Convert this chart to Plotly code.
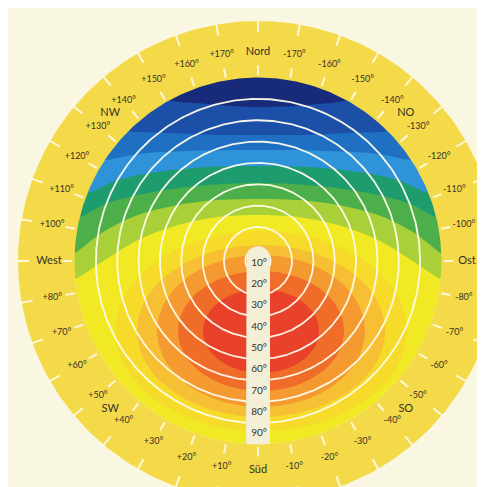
import numpy as np
import plotly.graph_objects as go

# ---------------- data ----------------
# Azimuth scale around the dial: 0 = Süd, positive = towards West
AZIMUTHS = list(range(-170, 181, 10))
CARDINAL_NAMES = {0: "Süd", 90: "West", -90: "Ost", 180: "Nord"}
INTERCARDINAL_AZ = [45, -45, 135, -135]
INTERCARDINAL_NAMES = ["SW", "SO", "NW", "NO"]

# Tilt angles written along the south radius, and ring boundaries between them
TILTS = [10, 20, 30, 40, 50, 60, 70, 80, 90]
TILT_LABELS = ["10°", "20°", "30°", "40°", "50°", "60°", "70°", "80°", "90°"]
RING_TILTS = [15, 25, 35, 45, 55, 65, 75, 85]
EDGE_TILT = 95

# Irradiation bands on the north side: boundary height at the rim and
# boundary points inside the disc (chart units, centre = 0,0)
UPPER_BANDS = ["gelbgrün", "grün", "blaugrün", "hellblau", "mittelblau", "blau", "dunkelblau"]
UPPER_EDGE_Y = [-18, 8, 44, 68, 101, 130, 161]
UPPER_X = [
    [-150, -120, -80, -40, 0, 40, 80, 120, 150],
    [-155, -120, -80, -40, 0, 40, 80, 120, 155],
    [-150, -110, -60, 0, 60, 110, 150],
    [-140, -100, -50, 0, 50, 100, 140],
    [-120, -70, 0, 70, 120],
    [-90, -40, 0, 40, 90],
    [-50, 0, 50],
]
UPPER_Y = [
    [3, 21, 36, 44, 46, 44, 36, 21, 3],
    [29, 46, 56, 61, 62, 61, 56, 46, 29],
    [58, 68, 75, 78, 75, 68, 58],
    [81, 89, 94, 95, 94, 89, 81],
    [107, 110, 111, 110, 107],
    [128, 126, 126, 126, 128],
    [157, 154, 156],
]

# Irradiation bands on the south side (closed ovals around the maximum)
LOWER_BANDS = ["goldgelb", "hellorange", "orange", "dunkelorange", "rot"]
LOWER_CX = [3, 3, 3, 3, 3]
LOWER_CY = [-70, -70, -70, -70, -70]
LOWER_RX = [146, 124, 104, 83, 58]
LOWER_RY = [100, 86, 76, 60, 42]

# ---------------- styles ----------------
UPPER_COLORS = ["#a9d038", "#4caf4a", "#1e9c6d", "#2e93d8", "#1f70c3", "#1b4fa8", "#172b7a"]
LOWER_COLORS = ["#f6db2b", "#f7bf33", "#f49a31", "#ef6c29", "#e8422a"]
BASE_YELLOW = "#f1e924"
RING_YELLOW = "#f4da48"
BG = "#f9f7e2"
TEXT = "#37312a"
WHITE = "rgba(255,252,236,0.95)"
FONT = "Lato"

RING_STEP = 21.35
R0 = 2.0


def tilt_r(t):
    return RING_STEP * (t - 10) / 10 + R0


R_DISK = tilt_r(EDGE_TILT)
R_OUT = 240
R_LABEL = 209

fig = go.Figure()


def add_poly(xs, ys, color, shape="linear"):
    fig.add_trace(go.Scatter(x=xs, y=ys, mode="lines", fill="toself",
                             fillcolor=color, line=dict(width=0, shape=shape),
                             hoverinfo="skip", showlegend=False))


# base disc
th = np.linspace(0, 2 * np.pi, 361)
add_poly(R_DISK * np.cos(th), R_DISK * np.sin(th), BASE_YELLOW)

# south ovals
for cx, cy, rx, ry, col in zip(LOWER_CX, LOWER_CY, LOWER_RX, LOWER_RY, LOWER_COLORS):
    t = np.linspace(0, 2 * np.pi, 241)
    add_poly(cx + rx * np.cos(t), cy + ry * np.sin(t), col)

# north bands
for ye, px, py, col in zip(UPPER_EDGE_Y, UPPER_X, UPPER_Y, UPPER_COLORS):
    xe = np.sqrt(R_DISK ** 2 - ye ** 2)
    a0 = np.arctan2(ye, xe)
    arc = np.linspace(a0, np.pi - a0, 160)
    xs = [-xe] + list(px) + [xe] + list(R_DISK * 1.01 * np.cos(arc)) + [-xe]
    ys = [ye] + list(py) + [ye] + list(R_DISK * 1.01 * np.sin(arc)) + [ye]
    add_poly(xs, ys, col, shape="spline")

# tilt rings
rx_, ry_ = [], []
for t in RING_TILTS:
    r = tilt_r(t)
    rx_ += list(r * np.cos(th)) + [None]
    ry_ += list(r * np.sin(th)) + [None]
fig.add_trace(go.Scatter(x=rx_, y=ry_, mode="lines", line=dict(color=WHITE, width=1.8),
                         hoverinfo="skip", showlegend=False))

# tilt column (strip along south radius with rounded top)
half_w = 12
cap_y = tilt_r(TILTS[0]) + 1
cap = np.linspace(0, np.pi, 60)
col_x = [half_w, half_w, -half_w, -half_w] + list(half_w * np.cos(np.pi - cap))
col_y = [cap_y, -R_DISK - 3, -R_DISK - 3, cap_y] + list(cap_y + half_w * np.sin(np.pi - cap))
add_poly(col_x, col_y, "#f3eed6")

# outer ring (annulus) drawn on top of the disc edge
to = np.linspace(0, 2 * np.pi, 361)
ann_x = list(R_OUT * np.cos(to)) + list(R_DISK * np.cos(to[::-1])) + [R_OUT]
ann_y = list(R_OUT * np.sin(to)) + list(R_DISK * np.sin(to[::-1])) + [0]
add_poly(ann_x, ann_y, RING_YELLOW)

# ticks on the ring
tx, ty = [], []
for a in AZIMUTHS:
    ar = np.radians(a)
    for r0, r1 in ((229, R_OUT + 2), (R_DISK + 2.5, R_DISK + 12)):
        tx += [-r0 * np.sin(ar), -r1 * np.sin(ar), None]
        ty += [-r0 * np.cos(ar), -r1 * np.cos(ar), None]
fig.add_trace(go.Scatter(x=tx, y=ty, mode="lines", line=dict(color="#fdf7dc", width=2),
                         hoverinfo="skip", showlegend=False))

# azimuth labels
num_x, num_y, num_t = [], [], []
big_x, big_y, big_t = [], [], []
for a in AZIMUTHS:
    ar = np.radians(a)
    x, y = -R_LABEL * np.sin(ar), -R_LABEL * np.cos(ar)
    if a in CARDINAL_NAMES:
        big_x.append(x); big_y.append(y); big_t.append(CARDINAL_NAMES[a])
    else:
        num_x.append(x); num_y.append(y); num_t.append(f"{a:+d}°")
for a, name in zip(INTERCARDINAL_AZ, INTERCARDINAL_NAMES):
    ar = np.radians(a)
    big_x.append(-R_LABEL * np.sin(ar)); big_y.append(-R_LABEL * np.cos(ar)); big_t.append(name)

fig.add_trace(go.Scatter(x=num_x, y=num_y, text=num_t, mode="text",
                         textfont=dict(family=FONT, size=9, color=TEXT),
                         hoverinfo="skip", showlegend=False))
fig.add_trace(go.Scatter(x=big_x, y=big_y, text=big_t, mode="text",
                         textfont=dict(family=FONT, size=11, color=TEXT),
                         hoverinfo="skip", showlegend=False))

# tilt labels
fig.add_trace(go.Scatter(x=[1] * len(TILTS), y=[-tilt_r(t) for t in TILTS], text=TILT_LABELS,
                         mode="text", textfont=dict(family=FONT, size=10, color=TEXT),
                         hoverinfo="skip", showlegend=False))

fig.update_layout(
    width=485, height=487, margin=dict(l=0, r=0, t=0, b=0),
    paper_bgcolor=BG, plot_bgcolor=BG, hovermode=False,
    xaxis=dict(range=[-250, 235], visible=False, fixedrange=True),
    yaxis=dict(range=[-234, 253], visible=False, fixedrange=True, scaleanchor="x", scaleratio=1),
)
fig.write_html("out.html")
